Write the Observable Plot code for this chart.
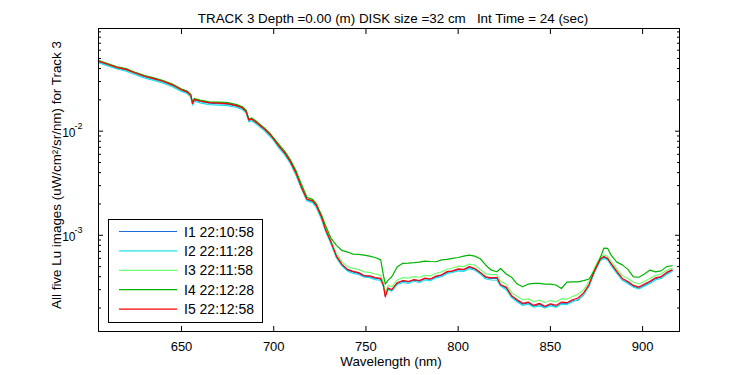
<!DOCTYPE html>
<html><head><meta charset="utf-8">
<script src="https://cdn.jsdelivr.net/npm/d3@7"></script>
<script src="https://cdn.jsdelivr.net/npm/@observablehq/plot@0.6"></script>
<style>body{margin:0;background:#fff} svg{display:block}</style>
</head><body><div id="chart"></div>
<script>
const wavelength = [
  605,610,615,620,625,630,635,640,645,650,
  653,655,656,657,660,665,670,675,680,683,
  685,686.5,688,691,695,698,700,703,706,709,
  712,715,718,721,723,726,728,731,734,737,
  740,743,746,749,752,755,758,759.5,760.5,762,
  764,767,770,773,776,779,782,785,788,791,
  794,797,800,803,806,809,812,815,818,821,
  823,826,829,832,835,838,841,844,847,850,
  853,856,859,862,865,868,871,874,877,879,
  881,883,886,889,892,895,898,901,904,907,
  910,913,916];

const I1 = [
  .0466,.0436,.0406,.0389,.0358,.0334,.0317,.0299,.0276,.0247,
  .0236,.0219,.0183,.0200,.0193,.0186,.0184,.0182,.0174,.0166,
  .0153,.0127,.0130,.0119,.0104,.0092,.0083,.0071,.0061,.0050,
  .0039,.0029,.00220,.00212,.00191,.00146,.00113,.000855,.000620,.000518,
  .000462,.000445,.000430,.000405,.000400,.000388,.000378,.000325,.000265,.000308,
  .000296,.000345,.000362,.000356,.000370,.000362,.000382,.000378,.000398,.000412,
  .000440,.000450,.000468,.000466,.000492,.000475,.000436,.000392,.000385,.000388,
  .000330,.000312,.000256,.000235,.000218,.000224,.000208,.000216,.000204,.000216,
  .000206,.000222,.000220,.000234,.000238,.000270,.000330,.000452,.000580,.000615,
  .000592,.000522,.000440,.000372,.000352,.000322,.000310,.000332,.000355,.000382,
  .000395,.000432,.000458];

const I2 = [
  .0455,.0424,.0396,.0378,.0349,.0324,.0308,.0290,.0268,.0241,
  .0230,.0213,.0178,.0194,.0187,.0180,.0178,.0176,.0169,.0161,
  .0149,.0123,.0126,.0115,.0101,.0089,.0081,.0068,.0059,.0049,
  .0038,.0028,.00214,.00206,.00186,.00141,.00110,.000830,.000605,.000505,
  .000452,.000430,.000420,.000395,.000392,.000375,.000368,.000320,.000262,.000300,
  .000290,.000338,.000352,.000345,.000362,.000352,.000372,.000365,.000390,.000400,
  .000430,.000440,.000455,.000450,.000478,.000462,.000425,.000380,.000372,.000370,
  .000325,.000300,.000252,.000228,.000212,.000218,.000204,.000210,.000200,.000210,
  .000204,.000218,.000216,.000230,.000242,.000268,.000325,.000445,.000570,.000600,
  .000580,.000510,.000430,.000370,.000345,.000318,.000305,.000325,.000345,.000372,
  .000385,.000420,.000448];

const I3 = [
  .0472,.0442,.0411,.0395,.0363,.0339,.0322,.0303,.0281,.0251,
  .0241,.0224,.0187,.0204,.0197,.0190,.0188,.0186,.0178,.0170,
  .0157,.0130,.0133,.0121,.0106,.0094,.0085,.0073,.0063,.0052,
  .0041,.0030,.00228,.00218,.00197,.00150,.00118,.000890,.000660,.000555,
  .000500,.000480,.000470,.000445,.000440,.000425,.000412,.000350,.000275,.000330,
  .000320,.000372,.000392,.000388,.000400,.000395,.000412,.000408,.000432,.000445,
  .000472,.000485,.000505,.000500,.000528,.000515,.000470,.000425,.000418,.000420,
  .000362,.000338,.000280,.000258,.000240,.000245,.000230,.000238,.000226,.000236,
  .000230,.000245,.000244,.000258,.000272,.000300,.000362,.000490,.000620,.000650,
  .000628,.000560,.000475,.000410,.000385,.000355,.000340,.000362,.000385,.000412,
  .000425,.000462,.000485];

const I4 = [
  .0478,.0447,.0416,.0399,.0367,.0342,.0325,.0307,.0284,.0254,
  .0243,.0226,.0189,.0206,.0199,.0191,.0190,.0188,.0180,.0172,
  .0159,.0131,.0134,.0123,.0107,.0095,.0086,.0074,.0064,.0053,
  .0042,.0031,.00232,.00222,.00202,.00155,.00125,.000940,.000800,.000715,
  .000690,.000660,.000655,.000644,.000630,.000612,.000580,.000410,.000340,.000371,
  .000400,.000498,.000538,.000540,.000545,.000552,.000565,.000560,.000557,.000580,
  .000586,.000600,.000612,.000630,.000644,.000630,.000595,.000516,.000462,.000446,
  .000480,.000425,.000395,.000340,.000320,.000340,.000345,.000345,.000340,.000340,
  .000333,.000308,.000355,.000357,.000357,.000367,.000380,.000463,.000603,.000752,
  .000750,.000640,.000552,.000520,.000470,.000399,.000395,.000425,.000463,.000445,
  .000455,.000500,.000510];

const I5 = [
  .0471,.0440,.0410,.0393,.0362,.0337,.0320,.0302,.0279,.0250,
  .0239,.0222,.0185,.0202,.0195,.0188,.0186,.0184,.0176,.0168,
  .0155,.0128,.0131,.0120,.0105,.0093,.0084,.0071,.0062,.0051,
  .0040,.0029,.00222,.00215,.00195,.00148,.00115,.000865,.000630,.000525,
  .000470,.000450,.000438,.000410,.000408,.000392,.000385,.000330,.000256,.000312,
  .000300,.000350,.000368,.000360,.000375,.000368,.000388,.000380,.000405,.000418,
  .000448,.000455,.000475,.000470,.000500,.000480,.000440,.000398,.000390,.000395,
  .000335,.000318,.000262,.000240,.000222,.000228,.000212,.000222,.000208,.000220,
  .000212,.000228,.000225,.000240,.000250,.000280,.000338,.000460,.000590,.000625,
  .000600,.000530,.000450,.000385,.000360,.000330,.000318,.000340,.000362,.000390,
  .000400,.000440,.000465];

const seriesNames = ["I1 22:10:58", "I2 22:11:28", "I3 22:11:58", "I4 22:12:28", "I5 22:12:58"];
const seriesColors = ["#1a6ee0", "#20e0e8", "#70ff70", "#00b400", "#ff0000"];
const xTicks = [650, 700, 750, 800, 850, 900];
const yMajorTicks = [1e-3, 1e-2];
const yTickBase = "10";
const yTickExps = ["-3", "-2"];
const yMinorTicks = [2e-4,3e-4,4e-4,5e-4,6e-4,7e-4,8e-4,9e-4,
                     2e-3,3e-3,4e-3,5e-3,6e-3,7e-3,8e-3,9e-3,
                     2e-2,3e-2,4e-2,5e-2,6e-2,7e-2,8e-2,9e-2];
const titleText = "TRACK 3 Depth =0.00 (m) DISK size =32 cm\u00a0\u00a0\u00a0Int Time = 24 (sec)";
const xLabel = "Wavelength (nm)";
const yLabel = "All five Lu images (uW/cm\u00b2/sr/nm) for Track 3";

const series = [I1, I2, I3, I4, I5];
const rows = [];
series.forEach((s, k) => wavelength.forEach((w, i) => rows.push({w, v: s[i], name: seriesNames[k]})));

const font = "'Liberation Sans', Arial, Helvetica, sans-serif";
const noText = () => "";
const plot = Plot.plot({
  width: 750, height: 375,
  marginLeft: 98, marginRight: 71, marginTop: 28, marginBottom: 44,
  style: {fontFamily: font, fontSize: "13px", background: "white", color: "black"},
  x: {domain: [605, 920]},
  y: {type: "log", domain: [1.19e-4, 0.097]},
  color: {domain: seriesNames, range: seriesColors},
  marks: [
    Plot.line(rows, {x: "w", y: "v", z: "name", stroke: "name", strokeWidth: 1.2}),
    Plot.frame({stroke: "black"}),
    // inward ticks (tick marks drawn inside the frame)
    Plot.axisX(xTicks, {anchor: "bottom", tickSize: 5, dy: -5, tickFormat: noText, label: null}),
    Plot.axisX(xTicks, {anchor: "top", tickSize: 5, dy: 5, tickFormat: noText, label: null}),
    Plot.axisY(yMajorTicks, {anchor: "left", tickSize: 5, dx: 5, tickFormat: noText, label: null}),
    Plot.axisY(yMajorTicks, {anchor: "right", tickSize: 5, dx: -5, tickFormat: noText, label: null}),
    Plot.axisY(yMinorTicks, {anchor: "left", tickSize: 3, dx: 3, tickFormat: noText, label: null}),
    Plot.axisY(yMinorTicks, {anchor: "right", tickSize: 3, dx: -3, tickFormat: noText, label: null}),
    // tick labels
    Plot.axisX(xTicks, {anchor: "bottom", tickSize: 0, tickPadding: 10, label: null, fontSize: 13}),
    Plot.text(yMajorTicks, {y: d => d, text: () => yTickBase, frameAnchor: "left", textAnchor: "end", dx: -23, dy: 2, fontSize: 12}),
    Plot.text(yMajorTicks, {y: d => d, text: (d, i) => yTickExps[i], frameAnchor: "left", textAnchor: "end", dx: -16, dy: -5, fontSize: 9}),
    Plot.text([titleText], {text: d => d, frameAnchor: "top", textAnchor: "middle", dy: -15, dx: 4, fontSize: 13.4}),
    Plot.text([xLabel], {text: d => d, frameAnchor: "bottom", textAnchor: "middle", dy: 34, dx: 2, fontSize: 13.4}),
    Plot.text([yLabel], {text: d => d, frameAnchor: "left", textAnchor: "middle", rotate: -90, dx: -42, dy: -5, fontSize: 13.4})
  ]
});

const svg = d3.select(plot);
const lg = svg.append("g").attr("font-family", font).attr("font-size", 14).attr("text-anchor", "start");
lg.append("rect").attr("x", 108.5).attr("y", 219.5).attr("width", 154).attr("height", 103)
  .attr("fill", "white").attr("stroke", "black");
seriesNames.forEach((name, k) => {
  const yy = 231.5 + k * 19.4;
  lg.append("line").attr("x1", 119).attr("x2", 177).attr("y1", yy).attr("y2", yy)
    .attr("stroke", seriesColors[k]).attr("stroke-width", 1.2);
  lg.append("text").attr("x", 184).attr("y", yy + 5).attr("fill", "black").attr("text-anchor", "start").text(name);
});

document.getElementById("chart").appendChild(plot);
</script>
</body></html>
